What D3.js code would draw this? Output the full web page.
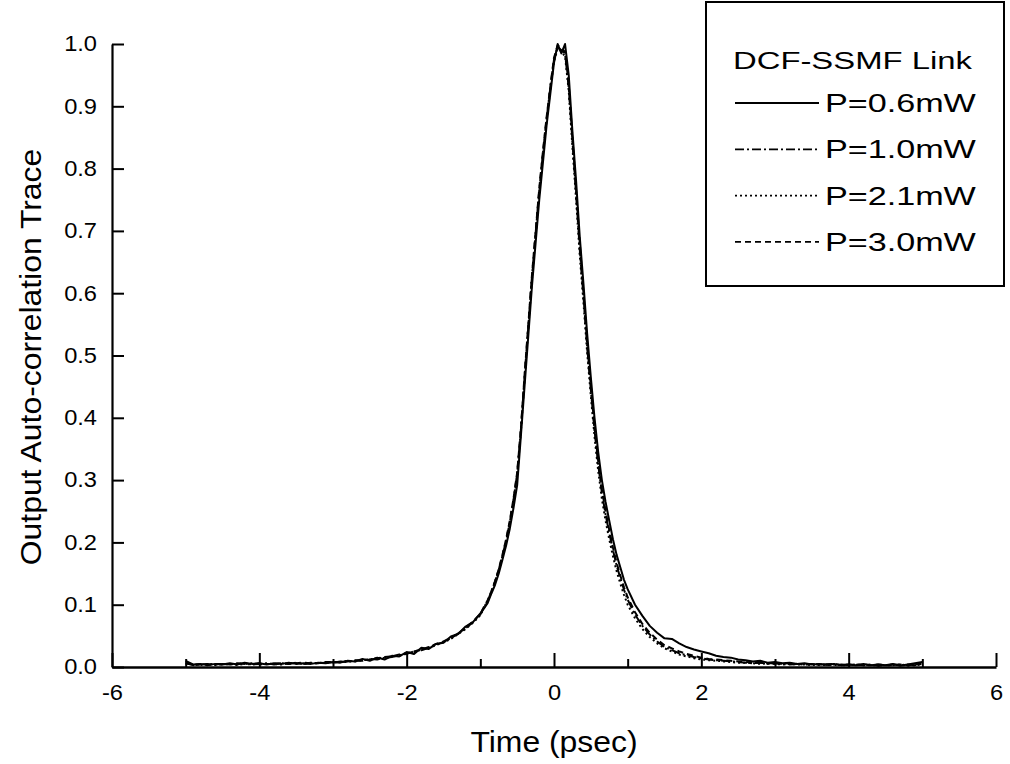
<!DOCTYPE html>
<html>
<head>
<meta charset="utf-8">
<script src="https://cdn.jsdelivr.net/npm/d3@7"></script>
<style>
  html, body { margin: 0; padding: 0; background: #fff; }
  svg { display: block; font-family: "Liberation Sans", Arial, Helvetica, sans-serif; }
</style>
</head>
<body>
<svg id="chart" width="1010" height="764"></svg>
<script>
// ---- data ----
const timePs = [
  -5.0,-4.9,-4.8,-4.7,-4.6,-4.5,-4.4,-4.3,-4.2,-4.1,
  -4.0,-3.9,-3.8,-3.7,-3.6,-3.5,-3.4,-3.3,-3.2,-3.1,
  -3.0,-2.9,-2.8,-2.7,-2.6,-2.5,-2.4,-2.3,-2.2,-2.1,
  -2.0,-1.9,-1.8,-1.7,-1.6,-1.5,-1.4,-1.3,-1.2,-1.1,
  -1.0,
  -0.95,-0.9,-0.85,-0.8,-0.75,-0.7,-0.65,-0.6,-0.55,-0.5,
  -0.45,-0.4,-0.35,-0.3,-0.25,-0.2,-0.15,-0.1,-0.05,0.0,
  0.05,0.1,0.15,0.2,0.25,0.3,0.35,0.4,0.45,0.5,
  0.55,0.6,0.65,0.7,0.75,0.8,0.85,0.9,0.95,1.0,
  1.1,1.2,1.3,1.4,1.5,1.6,1.7,1.8,1.9,2.0,
  2.1,2.2,2.3,2.4,2.5,2.6,2.7,2.8,2.9,3.0,
  3.1,3.2,3.3,3.4,3.5,3.6,3.7,3.8,3.9,4.0,
  4.1,4.2,4.3,4.4,4.5,4.6,4.7,4.8,4.9,5.0
];

const traceP06 = [
  0.010,0.004,0.005,0.003,0.005,0.004,0.006,0.004,0.007,0.005,
  0.006,0.004,0.006,0.005,0.007,0.005,0.006,0.005,0.007,0.006,
  0.008,0.007,0.010,0.009,0.013,0.010,0.015,0.012,0.018,0.017,
  0.024,0.021,0.031,0.029,0.037,0.039,0.049,0.053,0.065,0.072,
  0.086,
  0.094,0.103,0.118,0.132,0.150,0.172,0.195,0.222,0.255,0.292,
  0.370,0.450,0.530,0.610,0.680,0.750,0.810,0.870,0.920,0.970,
  1.000,0.985,1.000,0.950,0.860,0.780,0.690,0.615,0.535,0.465,
  0.400,0.345,0.300,0.265,0.235,0.205,0.180,0.160,0.140,0.125,
  0.100,0.082,0.066,0.055,0.046,0.045,0.038,0.032,0.028,0.025,
  0.022,0.018,0.016,0.015,0.012,0.011,0.009,0.010,0.007,0.008,
  0.006,0.007,0.005,0.006,0.004,0.005,0.004,0.005,0.003,0.004,
  0.003,0.005,0.003,0.004,0.003,0.005,0.002,0.004,0.006,0.008
];

const traceP10 = [
  0.006,0.003,0.004,0.005,0.003,0.005,0.004,0.006,0.005,0.004,
  0.005,0.006,0.004,0.006,0.005,0.007,0.005,0.006,0.006,0.007,
  0.007,0.009,0.008,0.010,0.010,0.013,0.012,0.015,0.016,0.019,
  0.021,0.025,0.027,0.031,0.036,0.040,0.046,0.054,0.062,0.072,
  0.084,
  0.096,0.106,0.121,0.137,0.156,0.178,0.203,0.232,0.268,0.310,
  0.380,0.465,0.545,0.625,0.695,0.765,0.825,0.880,0.930,0.975,
  0.995,0.990,0.985,0.930,0.845,0.760,0.670,0.595,0.515,0.445,
  0.380,0.325,0.280,0.245,0.215,0.188,0.163,0.143,0.124,0.108,
  0.084,0.066,0.052,0.041,0.032,0.027,0.022,0.019,0.016,0.014,
  0.012,0.011,0.010,0.009,0.008,0.007,0.006,0.007,0.005,0.006,
  0.005,0.004,0.005,0.004,0.005,0.003,0.004,0.003,0.004,0.003,
  0.004,0.003,0.004,0.002,0.003,0.004,0.003,0.004,0.003,0.005
];

const traceP21 = [
  0.005,0.004,0.003,0.005,0.004,0.004,0.005,0.003,0.005,0.006,
  0.004,0.005,0.005,0.004,0.006,0.006,0.005,0.007,0.006,0.008,
  0.007,0.008,0.010,0.009,0.011,0.012,0.014,0.015,0.017,0.018,
  0.022,0.024,0.028,0.031,0.035,0.040,0.045,0.053,0.061,0.071,
  0.083,
  0.095,0.105,0.120,0.136,0.155,0.177,0.202,0.231,0.266,0.308,
  0.378,0.462,0.543,0.622,0.693,0.763,0.823,0.878,0.928,0.972,
  0.993,0.988,0.980,0.925,0.835,0.750,0.660,0.585,0.505,0.435,
  0.370,0.315,0.270,0.235,0.205,0.178,0.154,0.134,0.116,0.100,
  0.078,0.061,0.048,0.038,0.030,0.025,0.020,0.017,0.014,0.012,
  0.011,0.010,0.009,0.008,0.007,0.007,0.006,0.005,0.006,0.005,
  0.004,0.005,0.004,0.004,0.003,0.004,0.003,0.004,0.003,0.003,
  0.004,0.003,0.003,0.002,0.003,0.003,0.004,0.002,0.003,0.004
];

const traceP30 = [
  0.007,0.004,0.004,0.003,0.005,0.005,0.004,0.005,0.006,0.004,
  0.006,0.005,0.005,0.006,0.005,0.006,0.007,0.006,0.006,0.008,
  0.008,0.008,0.009,0.011,0.011,0.012,0.014,0.016,0.017,0.020,
  0.022,0.025,0.028,0.032,0.037,0.041,0.047,0.054,0.063,0.073,
  0.085,
  0.097,0.107,0.122,0.138,0.157,0.180,0.205,0.235,0.270,0.312,
  0.382,0.468,0.548,0.628,0.698,0.768,0.828,0.883,0.932,0.978,
  0.998,0.992,0.988,0.935,0.850,0.765,0.680,0.600,0.520,0.450,
  0.385,0.330,0.285,0.250,0.220,0.192,0.167,0.147,0.128,0.112,
  0.088,0.069,0.055,0.044,0.035,0.030,0.025,0.021,0.018,0.015,
  0.013,0.012,0.011,0.010,0.009,0.008,0.007,0.007,0.006,0.006,
  0.005,0.006,0.005,0.004,0.005,0.004,0.004,0.005,0.003,0.004,
  0.003,0.004,0.003,0.004,0.003,0.003,0.004,0.003,0.004,0.006
];

const seriesNames = ["P=0.6mW", "P=1.0mW", "P=2.1mW", "P=3.0mW"];
const seriesValues = [traceP06, traceP10, traceP21, traceP30];
const seriesDash = [null, "9,3,2,3", "2,3", "6,4"];

const xMajorTicks = [-6, -4, -2, 0, 2, 4, 6];
const xMinorTicks = [-5, -3, -1, 1, 3, 5];
const yTicks = [0, 0.1, 0.2, 0.3, 0.4, 0.5, 0.6, 0.7, 0.8, 0.9, 1.0];

const legendTitle = "DCF-SSMF Link";
const xLabel = "Time (psec)";
const yLabel = "Output Auto-correlation Trace";

// ---- layout ----
const svg = d3.select("#chart");
const x = d3.scaleLinear().domain([-6, 6]).range([112, 996]);
const y = d3.scaleLinear().domain([0, 1]).range([667, 44]);

// traces
const line = d3.line().x((d, i) => x(timePs[i])).y(d => y(d));
seriesValues.forEach((vals, k) => {
  svg.append("path")
    .datum(vals)
    .attr("d", line)
    .attr("fill", "none")
    .attr("stroke", "#000")
    .attr("stroke-width", 2)
    .attr("stroke-linejoin", "round")
    .attr("stroke-dasharray", seriesDash[k]);
});

const tickStretch = 1.1;

// y axis
const yAxis = svg.append("g")
  .attr("transform", `translate(${x(-6)},0)`)
  .call(d3.axisLeft(y).tickValues(yTicks).tickFormat(d3.format(".1f"))
    .tickSizeInner(-12).tickSizeOuter(0).tickPadding(15));
yAxis.select(".domain").attr("stroke-width", 2.2);
yAxis.selectAll(".tick line").attr("stroke-width", 2);
yAxis.selectAll("text").attr("font-size", 21.5).attr("fill", "#000")
  .attr("x", -15 / tickStretch)
  .attr("transform", `scale(${tickStretch},1)`);

// x axis (minor ticks)
const xMinor = svg.append("g")
  .attr("transform", `translate(0,${y(0)})`)
  .call(d3.axisBottom(x).tickValues(xMinorTicks).tickFormat("")
    .tickSizeInner(-8).tickSizeOuter(0));
xMinor.select(".domain").remove();
xMinor.selectAll(".tick line").attr("stroke-width", 2);

// x axis (major ticks)
const xAxis = svg.append("g")
  .attr("transform", `translate(0,${y(0)})`)
  .call(d3.axisBottom(x).tickValues(xMajorTicks).tickFormat(d3.format("d"))
    .tickSizeInner(-14).tickSizeOuter(0).tickPadding(18));
xAxis.select(".domain").attr("stroke-width", 2.6);
xAxis.selectAll(".tick line").attr("stroke-width", 2);
xAxis.selectAll("text").attr("font-size", 21.5).attr("fill", "#000")
  .attr("transform", `scale(${tickStretch},1)`)
  .text(d => d < 0 ? "-" + Math.abs(d) : String(d));

// axis titles
svg.append("text")
  .attr("transform", `translate(${x(0)},752) scale(1.1,1)`)
  .attr("text-anchor", "middle")
  .attr("font-size", 29)
  .text(xLabel);

svg.append("text")
  .attr("transform", `translate(41,357) rotate(-90) scale(1.1,1)`)
  .attr("text-anchor", "middle")
  .attr("font-size", 29)
  .text(yLabel);

// legend
const legendStretch = 1.34;
const lg = svg.append("g");
lg.append("rect")
  .attr("x", 706).attr("y", 2).attr("width", 298).attr("height", 284)
  .attr("fill", "#fff").attr("stroke", "#000").attr("stroke-width", 2);
lg.append("text")
  .attr("transform", `translate(733,69) scale(${legendStretch},1)`)
  .attr("font-size", 24.5)
  .text(legendTitle);
seriesNames.forEach((name, k) => {
  const by = 112 + k * 46.3;
  lg.append("line")
    .attr("x1", 735).attr("x2", 819)
    .attr("y1", by - 9).attr("y2", by - 9)
    .attr("stroke", "#000").attr("stroke-width", 1.8)
    .attr("stroke-dasharray", seriesDash[k]);
  lg.append("text")
    .attr("transform", `translate(825,${by}) scale(${legendStretch},1)`)
    .attr("font-size", 25.5)
    .text(name);
});
</script>
</body>
</html>
